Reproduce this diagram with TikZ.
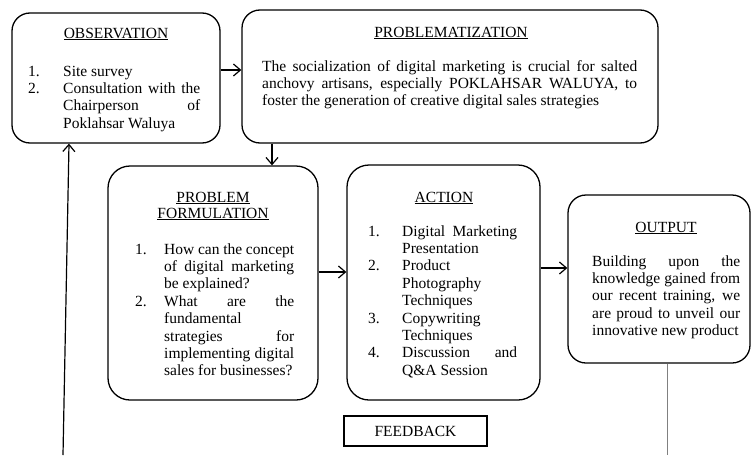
\documentclass[tikz,border=0pt]{standalone}
\usepackage{fontspec}
\setmainfont{Liberation Serif}
\usetikzlibrary{arrows.meta}
\newcommand\Jl[2]{\makebox[#1][s]{#2}}
\newcommand\Nb[2]{\makebox[#1][l]{#2}}
\newcommand\bodyfont{\fontsize{15.5}{17.4}\selectfont\lineskiplimit=-100pt}
\begin{document}
\begin{tikzpicture}[x=1pt,y=-1pt,
  box/.style={draw, line width=1.3pt, rounded corners=18pt, inner sep=0pt},
  fbbox/.style={draw, line width=1.2pt, inner sep=0pt},
  txt/.style={inner sep=0pt, anchor=base west, font=\bodyfont},
  ttl/.style={inner sep=0pt, anchor=base, font=\bodyfont},
  arr/.style={line width=1.2pt, -{Straight Barb[length=7pt,width=12pt]}},
  fbline/.style={line width=1pt, draw=gray}]
\useasboundingbox (0,0) rectangle (751,455);

% boxes
\node[box, minimum width=208pt, minimum height=130pt] (obs) at (116,78) {};
\node[box, minimum width=416pt, minimum height=133pt] (prob) at (450,76.5) {};
\node[box, rounded corners=22pt, minimum width=210pt, minimum height=234pt] (pf) at (213,283) {};
\node[box, rounded corners=22pt, minimum width=193pt, minimum height=235pt] (act) at (443.5,282.5) {};
\node[box, minimum width=182pt, minimum height=168pt] (out) at (659,279) {};
\node[fbbox, minimum width=143pt, minimum height=30pt] (fb) at (415.5,431) {};

% titles
\node[ttl] (obst) at (116,38) {\underline{OBSERVATION}};
\node[ttl] (probt) at (451,37) {\underline{PROBLEMATIZATION}};
\node[ttl] (pft1) at (213,202) {\underline{PROBLEM}};
\node[ttl] (pft2) at (213,218) {\underline{FORMULATION}};
\node[ttl] (actt) at (444,202) {\underline{ACTION}};
\node[ttl] (outt) at (666,232) {\underline{OUTPUT}};
\node[ttl] (fbt) at (415.5,436) {FEEDBACK};

% bodies
\node[txt] (obsb) at (28,76) {\parbox[t]{172pt}{%
\Nb{35pt}{1.}Site survey\\
\Nb{35pt}{2.}\Jl{137pt}{Consultation with the}\\
\hspace*{35pt}\Jl{137pt}{Chairperson of}\\
\hspace*{35pt}Poklahsar Waluya}};

\node[txt] (probb) at (262,71) {\parbox[t]{375pt}{%
\Jl{375pt}{The socialization of digital marketing is crucial for salted}\\
\Jl{375pt}{anchovy artisans, especially POKLAHSAR WALUYA, to}\\
foster the generation of creative digital sales strategies}};

\node[txt] (pfb) at (135,254) {\parbox[t]{160pt}{%
\Nb{29pt}{1.}\Jl{130pt}{How can the concept}\\
\hspace*{29pt}\Jl{130pt}{of digital marketing}\\
\hspace*{29pt}be explained?\\
\Nb{29pt}{2.}\Jl{130pt}{What are the}\\
\hspace*{29pt}fundamental\\
\hspace*{29pt}\Jl{130pt}{strategies for}\\
\hspace*{29pt}\Jl{130pt}{implementing digital}\\
\hspace*{29pt}sales for businesses?}};

\node[txt] (actb) at (368,236) {\parbox[t]{150pt}{%
\Nb{34pt}{1.}\Jl{115pt}{Digital Marketing}\\
\hspace*{34pt}Presentation\\
\Nb{34pt}{2.}Product\\
\hspace*{34pt}Photography\\
\hspace*{34pt}Techniques\\
\Nb{34pt}{3.}Copywriting\\
\hspace*{34pt}Techniques\\
\Nb{34pt}{4.}\Jl{115pt}{Discussion and}\\
\hspace*{34pt}Q\&A Session}};

\node[txt] (outb) at (592,266) {\parbox[t]{148pt}{%
\Jl{148pt}{Building upon the}\\
\Jl{148pt}{knowledge gained from}\\
\Jl{148pt}{our recent training, we}\\
\Jl{148pt}{are proud to unveil our}\\
innovative new product}};

% helper coordinates
\coordinate (r1) at (0,70);
\coordinate (c2) at (272,0);
\coordinate (r3) at (0,272);
\coordinate (r4) at (0,268);
\coordinate (c5) at (667,0);
\coordinate (c6) at (69,0);
\coordinate (fbR) at (667,455);
\coordinate (fbL) at (63,455);

% connectors
\draw[arr] (obs.east |- r1) -- (prob.west |- r1);
\draw[arr] (prob.south -| c2) -- (pf.north -| c2);
\draw[arr] (pf.east |- r3) -- (act.west |- r3);
\draw[arr] (act.east |- r4) -- (out.west |- r4);
\draw[fbline] (out.south -| c5) -- (fbR);
\draw[arr] (fbL) -- (obs.south -| c6);
\end{tikzpicture}
\end{document}
